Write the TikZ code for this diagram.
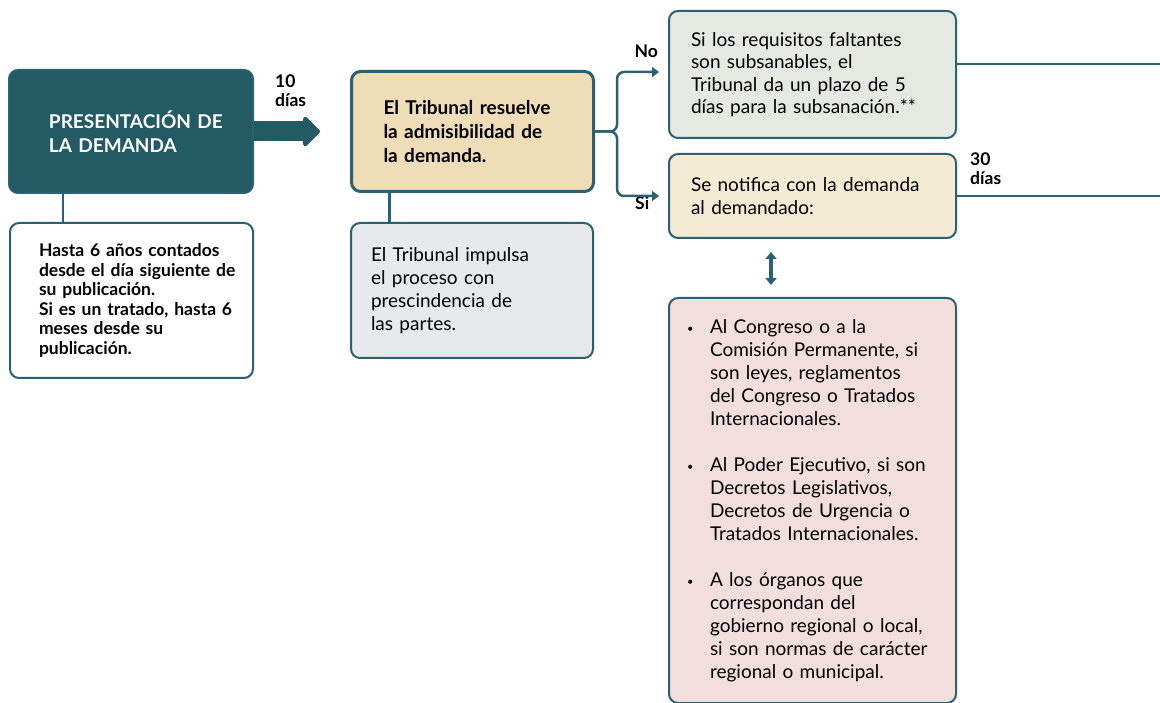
\documentclass[tikz,border=0pt]{standalone}
\usepackage{fontspec}
\setmainfont{Lato}
\usetikzlibrary{arrows.meta}
\definecolor{tealdark}{HTML}{245A64}
\definecolor{edge}{HTML}{2B6170}
\definecolor{beige}{HTML}{EFDDB7}
\definecolor{greybox}{HTML}{E8E9EB}
\definecolor{greenbox}{HTML}{E4EAE2}
\definecolor{creambox}{HTML}{F4EBD5}
\definecolor{pinkbox}{HTML}{F2DFDD}
\newcommand{\bul}{\makebox[23pt][l]{\raisebox{1pt}{\fontsize{11}{11}\selectfont\textbullet}}}
\newcommand{\ind}{\hspace*{23pt}}
\tikzset{
  box/.style={draw=edge,line width=2pt,rounded corners=9pt,align=left,anchor=north west,inner ysep=0pt,font=\fontsize{19}{22.5}\selectfont},
  conn/.style={draw=edge,line width=2.5pt},
  tip/.style={-{Triangle[width=10pt,length=7pt]}},
  lbl/.style={inner sep=0pt,font=\fontsize{17.5}{19}\selectfont\bfseries,align=left},
}
\begin{document}
\begin{tikzpicture}[x=1pt,y=-1pt]
	\useasboundingbox(0,0)rectangle(1160,703);
	% left column
	\node[box,fill=tealdark,text=white,minimum width=244,minimum height=123,inner xsep=16,text width=212,font=\fontsize{19}{24}\selectfont\bfseries](dem)at(8,69){\leftskip=24pt PRESENTACIÓN DE\\LA DEMANDA\par};
	\node[box,fill=white,minimum width=243,minimum height=155,inner xsep=10,text width=223,font=\fontsize{17.5}{19.6}\selectfont\bfseries](plazo)at(9,222){\leftskip=19pt Hasta 6 años contados\\desde el día siguiente de\\su publicación.\\Si es un tratado, hasta 6\\meses desde su\\publicación.\par};
	% middle column
	\node[box,fill=beige,line width=3pt,minimum width=242,minimum height=120,inner xsep=32,text width=178,font=\fontsize{19}{24}\selectfont\bfseries](adm)at(350,70){El Tribunal resuelve\\la admisibilidad de\\la demanda.};
	\node[box,fill=greybox,minimum width=242,minimum height=135,inner xsep=20,text width=202,font=\fontsize{19}{23}\selectfont](imp)at(350,222){El Tribunal impulsa\\el proceso con\\prescindencia de\\las partes.};
	% right column
	\node[box,fill=greenbox,minimum width=287,minimum height=127,inner xsep=22,text width=243](subs)at(668,10){Si los requisitos faltantes\\son subsanables, el\\Tribunal da un plazo de 5\\días para la subsanación.**};
	\node[box,fill=creambox,minimum width=287,minimum height=84,inner xsep=22,text width=243](notif)at(668,153){Se notifica con la demanda\\al demandado:};
	\node[box,fill=pinkbox,minimum width=287,minimum height=405,inner xsep=14,text width=259,font=\fontsize{19}{23}\selectfont](dest)at(668,297){\leftskip=4pt\bul Al Congreso o a la\\\ind Comisión Permanente, si\\\ind son leyes, reglamentos\\\ind del Congreso o Tratados\\\ind Internacionales.\\[23pt]\bul Al Poder Ejecutivo, si son\\\ind Decretos Legislativos,\\\ind Decretos de Urgencia o\\\ind Tratados Internacionales.\\[23pt]\bul A los órganos que\\\ind correspondan del\\\ind gobierno regional o local,\\\ind si son normas de carácter\\\ind regional o municipal.\par};
	% labels
	\node[lbl,anchor=north west](d10)at(275,75){10\\días};
	\node[lbl,anchor=north west](d30)at(970,153){30\\días};
	\node[lbl,anchor=base east](no)at(658,58){No};
	\node[lbl,anchor=base west](si)at(635,210){Si};
	% connectors
	\draw[tealdark,line width=20pt,-{Triangle[width=35pt,length=18pt,round]},shorten >=30pt](dem.east)--(adm.west);
	\draw[conn]([xshift=-68pt]dem.south)--([xshift=-68pt]dem.south|-plazo.north);
	\draw[conn]([xshift=-83pt]adm.south)--([xshift=-83pt]adm.south|-imp.north);
	\draw[conn,tip,rounded corners=7pt,shorten >=9pt](adm.east)--++(22,0)|-([yshift=2.5pt]subs.west);
	\draw[conn,tip,rounded corners=7pt,shorten >=9pt](adm.east)--++(22,0)|-(notif.west);
	\coordinate(rE)at(1160,64);
	\coordinate(rF)at(1160,195);
	\coordinate(dx)at(771,0);
	\draw[conn](subs.east|-rE)--(rE);
	\draw[conn](notif.east)--(notif.east-|rF);
	\draw[conn,line width=3.5pt,{Triangle[width=11pt,length=7pt]}-{Triangle[width=11pt,length=7pt]},shorten <=13pt,shorten >=12pt](notif.south-|dx)--(dest.north-|dx);
\end{tikzpicture}
\end{document}
